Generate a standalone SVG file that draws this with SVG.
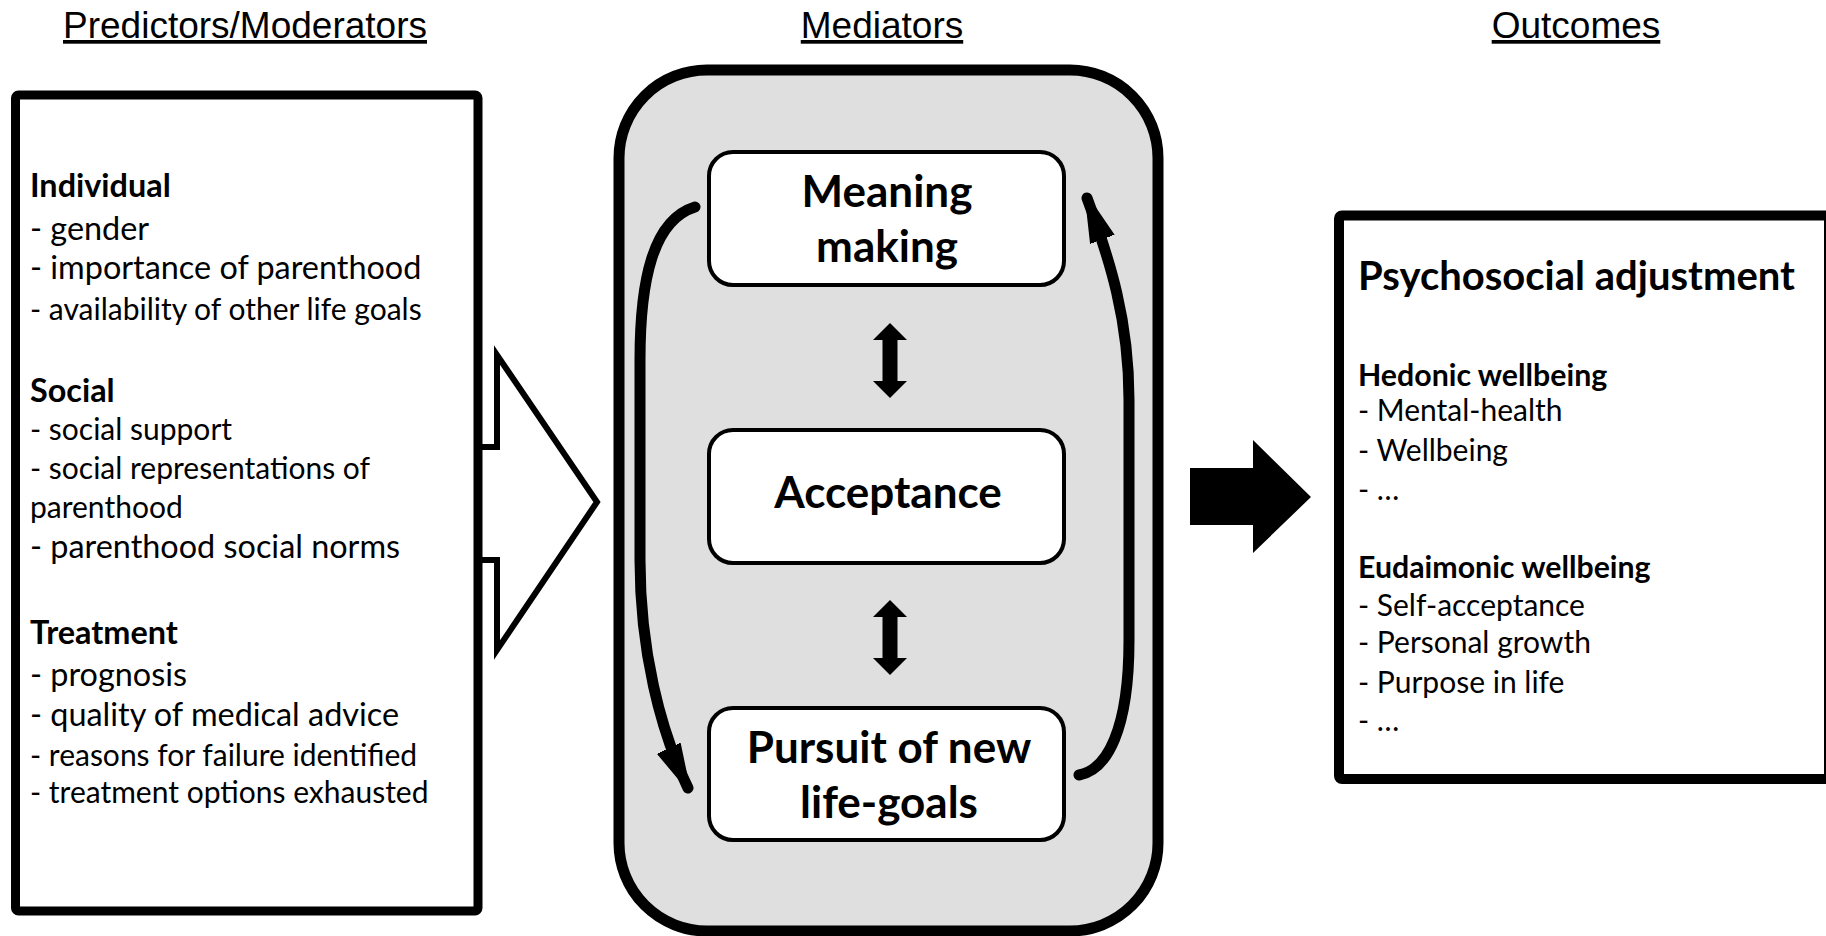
<svg xmlns="http://www.w3.org/2000/svg" width="1826" height="936" viewBox="0 0 1826 936">
<style>
.title{font-family:"Liberation Sans",Arial,sans-serif;font-size:37px;fill:#000;text-decoration:underline;text-anchor:middle}
.t{font-family:Lato,"Open Sans",sans-serif;fill:#000}
.b{font-weight:bold}
.big{font-size:32.4px}
.sm{font-size:30px}
.rt{font-size:30px}
.rtb{font-size:30.3px}
.med{font-size:44px;font-weight:bold;text-anchor:middle}
.box{fill:#fff;stroke:#000;stroke-width:9}
.inner{fill:#fff;stroke:#000;stroke-width:4}
.curve{fill:none;stroke:#000;stroke-width:11;stroke-linecap:round}
</style>
<defs>
<marker id="head" markerUnits="userSpaceOnUse" viewBox="0 -14 48 28" refX="44" refY="0" markerWidth="48" markerHeight="28" orient="auto">
<path d="M0,-11 L44,0 L0,11 Z" fill="#000" stroke="#000" stroke-width="4" stroke-linejoin="round"/>
</marker>
</defs>
<rect width="1826" height="936" fill="#fff"/>
<g id="titles">
<text class="title" x="245" y="38">Predictors/Moderators</text>
<text class="title" x="882" y="38">Mediators</text>
<text class="title" x="1576" y="38">Outcomes</text>
</g>
<g id="predictors">
<rect class="box" x="15.5" y="95" width="462.5" height="816" rx="3"/>
<text class="t b big" x="30" y="197">Individual</text>
<text class="t big" x="30" y="240">- gender</text>
<text class="t big" x="30" y="279">- importance of parenthood</text>
<text class="t sm" x="30" y="320">- availability of other life goals</text>
<text class="t b big" x="30" y="402">Social</text>
<text class="t sm" x="30" y="440">- social support</text>
<text class="t sm" x="30" y="479">- social representations of</text>
<text class="t sm" x="30" y="518">parenthood</text>
<text class="t big" x="30" y="558">- parenthood social norms</text>
<text class="t b big" x="30" y="644">Treatment</text>
<text class="t big" x="30" y="686">- prognosis</text>
<text class="t big" x="30" y="726">- quality of medical advice</text>
<text class="t sm" x="30" y="766">- reasons for failure identified</text>
<text class="t sm" x="30" y="803">- treatment options exhausted</text>
</g>
<g id="mediators">
<rect x="619" y="70" width="539" height="861" rx="88" fill="#dfdfdf" stroke="#000" stroke-width="11"/>
</g>
<g id="meaning-making">
<rect class="inner" x="709" y="152" width="355" height="133" rx="24"/>
<text class="t med" x="887" y="207">Meaning</text>
<text class="t med" x="887" y="262">making</text>
</g>
<g id="acceptance">
<rect class="inner" x="709" y="430" width="355" height="133" rx="24"/>
<text class="t med" x="888" y="508">Acceptance</text>
</g>
<g id="pursuit">
<rect class="inner" x="709" y="708" width="355" height="132" rx="24"/>
<text class="t med" x="889" y="763">Pursuit of new</text>
<text class="t med" x="889" y="818">life-goals</text>
</g>
<g id="outcomes">
<rect x="1339" y="215.5" width="490" height="563.5" fill="#fff" stroke="#000" stroke-width="10" rx="3"/>
<text class="t b" x="1358" y="290" font-size="40">Psychosocial adjustment</text>
<text class="t b rtb" x="1358" y="386">Hedonic wellbeing</text>
<text class="t rt" x="1358" y="421">- Mental-health</text>
<text class="t rt" x="1358" y="461">- Wellbeing</text>
<text class="t rt" x="1358" y="500">- …</text>
<text class="t b rtb" x="1358" y="578">Eudaimonic wellbeing</text>
<text class="t rt" x="1358" y="616">- Self-acceptance</text>
<text class="t rt" x="1358" y="653">- Personal growth</text>
<text class="t rt" x="1358" y="693">- Purpose in life</text>
<text class="t rt" x="1358" y="731">- …</text>
</g>
<g id="connectors">
<polyline points="478,447 497,447 497,355 597,502 497,650 497,560 478,560" fill="none" stroke="#000" stroke-width="6" stroke-linejoin="miter"/>
<polygon points="1190,468 1253,468 1253,440 1311,497 1253,553 1253,525 1190,525" fill="#000"/>
<polygon points="890,323 907,340 897.5,340 897.5,381 907,381 890,398 873,381 882.5,381 882.5,340 873,340" fill="#000"/>
<polygon points="890,600 907,617 897.5,617 897.5,658 907,658 890,675 873,658 882.5,658 882.5,617 873,617" fill="#000"/>
<path class="curve" d="M695,207 C653,220 640,280 640,360 L640,560 C640,650 660,730 688,788" marker-end="url(#head)"/>
<path class="curve" d="M1079,775 C1107,770 1129,730 1129,640 L1129,400 C1129,320 1110,260 1087,198" marker-end="url(#head)"/>
</g>
</svg>
